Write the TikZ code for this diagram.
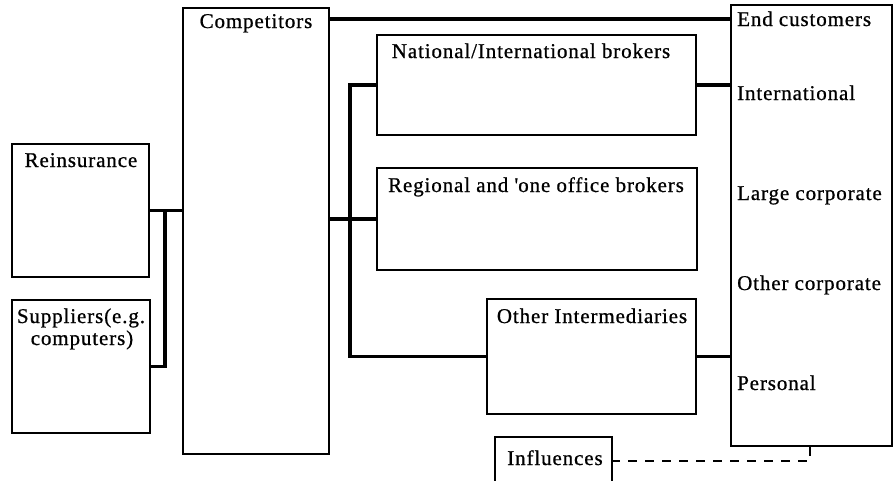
\documentclass[tikz,border=0pt]{standalone}
\usepackage{fontspec}
\usetikzlibrary{fit}
\setmainfont[LetterSpace=4.2,FakeBold=0.8]{Liberation Serif}
\begin{document}
\begin{tikzpicture}[x=1pt,y=-1pt,
  box/.style={draw, line width=2.2pt, minimum width=0pt, minimum height=0pt, inner sep=0pt},
  link/.style={line width=3.2pt},
  infl/.style={line width=2.5pt, dash pattern=on 9pt off 8pt},
  lbl/.style={inner sep=0pt, font=\fontsize{21}{22}\selectfont}]
\useasboundingbox (0,0) rectangle (894,480);
\clip (0,0) rectangle (894,480);

% boxes
\node[box, fit={(12,144) (149,277)}] (reins) {};
\node[box, fit={(12,300) (150,433)}] (supp) {};
\node[box, fit={(183,8) (329,454)}] (comp) {};
\node[box, fit={(377,35) (696,135)}] (natl) {};
\node[box, fit={(377,168) (697,270)}] (regl) {};
\node[box, fit={(487,299) (696,414)}] (other) {};
\node[box, fit={(495,437) (612,485)}] (influ) {};
\node[box, fit={(731,5) (892,446)}] (endc) {};

% box titles
\node[lbl, anchor=base] (tcomp) at (256,28) {Competitors};
\node[lbl, anchor=base] (treins) at (81,167) {Reinsurance};
\node[lbl, anchor=base] (tsupa) at (81,323) {Suppliers(e.g.};
\node[lbl, anchor=base] (tsupb) at (82,345) {computers)};
\node[lbl, anchor=base] (tnatl) at (531,58) {National/International brokers};
\node[lbl, anchor=base] (tregl) at (536,192) {Regional and \textquotesingle one office brokers};
\node[lbl, anchor=base] (tother) at (592,323) {Other Intermediaries};
\node[lbl, anchor=base] (tinflu) at (555,465) {Influences};

% customer segments
\node[lbl, anchor=base west] (tend) at (737,26) {End customers};
\node[lbl, anchor=base west] (tintl) at (737,100) {International};
\node[lbl, anchor=base west] (tlarge) at (737,200) {Large corporate};
\node[lbl, anchor=base west] (tocorp) at (737,290) {Other corporate};
\node[lbl, anchor=base west] (tpers) at (737,390) {Personal};

% connectors
\coordinate (ctop) at (329,19);
\coordinate (bus) at (350,85);
\coordinate (sup) at (165,0);
\coordinate (tick) at (810,0);
\draw[link] (ctop) -- (ctop -| endc.west);
\draw[link] (reins.east) -- (reins.east -| comp.west);
\draw[link] (supp.east) -- (supp.east -| sup) |- (reins.east);
\draw[link] (comp.east |- regl.west) -- (regl.west);
\draw[link] (natl.west) -- (natl.west -| bus) |- (other.west);
\draw[link] (natl.east) -- (natl.east -| endc.west);
\draw[link] (other.east) -- (other.east -| endc.west);
\draw[infl] (endc.south -| tick) |- (influ.east);
\end{tikzpicture}
\end{document}
